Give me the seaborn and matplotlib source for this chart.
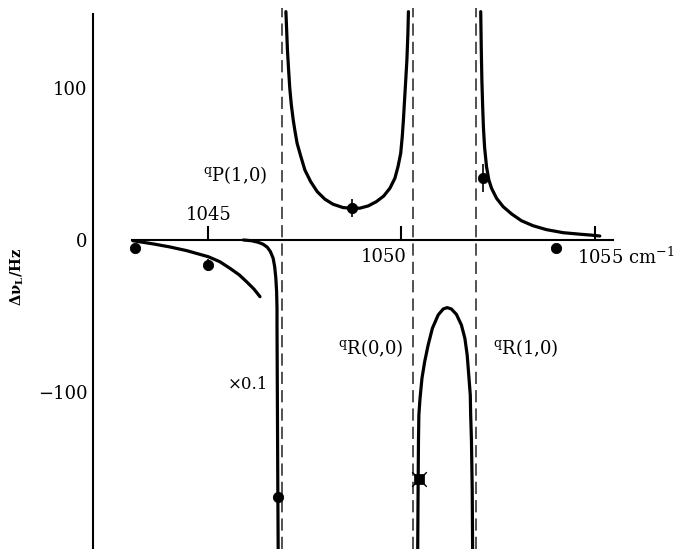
import matplotlib
matplotlib.use("Agg")
import matplotlib.pyplot as plt
import seaborn as sns

# ---- data ----
# curve left of qP(1,0) (unscaled)
c1_x = [1043.05, 1043.58, 1044.01, 1044.44, 1045.00, 1045.30, 1045.56, 1045.80, 1045.99, 1046.18, 1046.34]
c1_y = [-0.5, -2.6, -4.6, -7.0, -11.0, -14.3, -18.6, -22.9, -27.4, -32.2, -37.3]
# curve left of qP(1,0) (x0.1)
c2_x = [1045.91, 1046.12, 1046.29, 1046.42, 1046.53, 1046.61, 1046.68, 1046.72,
        1046.75, 1046.77, 1046.78, 1046.78, 1046.80, 1046.81]
c2_y = [0.0, -0.5, -1.5, -2.8, -4.8, -7.7, -12.0, -17.6,
        -25.2, -34.0, -44.9, -55.9, -157.9, -203.3]
# U-shaped curve between qP(1,0) and qR(0,0)
c3_x = [1047.01, 1047.03, 1047.05, 1047.08, 1047.11, 1047.15, 1047.20, 1047.24,
        1047.30, 1047.39, 1047.50, 1047.65, 1047.82, 1048.02, 1048.23, 1048.49,
        1048.71, 1048.92, 1049.14, 1049.35, 1049.54, 1049.70, 1049.83, 1049.91,
        1049.98, 1050.02, 1050.05, 1050.08, 1050.11, 1050.14, 1050.165, 1050.18]
c3_y = [150.2, 138.0, 125.0, 112.0, 100.0, 89.0, 78.9, 72.4,
        63.6, 55.5, 46.1, 38.4, 31.8, 26.8, 23.5, 21.3,
        20.9, 20.9, 22.4, 25.2, 28.9, 34.0, 40.6, 48.2,
        57.0, 68.0, 78.9, 92.1, 105.0, 118.4, 134.9, 150.2]
# curve right of qR(1,0)
c4_x = [1052.05, 1052.065, 1052.08, 1052.10, 1052.12, 1052.15, 1052.20, 1052.26,
        1052.33, 1052.46, 1052.63, 1052.85, 1053.10, 1053.40, 1053.75, 1054.18,
        1054.61, 1054.90, 1055.13]
c4_y = [150.2, 125.0, 105.0, 88.0, 74.0, 61.0, 48.2, 39.5,
        34.0, 27.4, 21.9, 17.1, 12.7, 9.4, 6.8, 4.8,
        3.8, 3.2, 2.6]
# inverted U between qR(0,0) and qR(1,0)
c5_x = [1050.42, 1050.43, 1050.44, 1050.45, 1050.48, 1050.53, 1050.60, 1050.69,
        1050.80, 1050.95, 1051.08, 1051.18, 1051.29, 1051.42, 1051.55, 1051.64,
        1051.70, 1051.74, 1051.78, 1051.79, 1051.81, 1051.83, 1051.84]
c5_y = [-203.3, -164.5, -131.6, -115.1, -104.2, -91.0, -80.1, -69.1,
        -58.1, -49.3, -45.4, -44.5, -45.4, -48.9, -55.9, -64.7,
        -75.7, -88.8, -102.0, -115.1, -131.6, -164.5, -203.3]

# measured points
pt_x = [1043.10, 1045.00, 1046.81, 1048.71, 1052.10, 1054.01]
pt_y = [-5.1, -16.5, -169.0, 20.9, 40.7, -5.5]
pt_err = [0.0, 4.0, 8.0, 6.0, 9.0, 0.0]
sq_x = [1050.45]
sq_y = [-157.3]

# resonance positions
lines_x = [1046.90, 1050.30, 1051.94]
line_labels = ["$^{\\mathrm{q}}$P(1,0)", "$^{\\mathrm{q}}$R(0,0)", "$^{\\mathrm{q}}$R(1,0)"]
line_label_x = [1044.86, 1048.35, 1052.36]
line_label_y = [42.8, -71.0, -71.0]

xtick_vals = [1045, 1050, 1055]
xtick_labels = ["1045", "1050", "1055 cm$^{-1}$"]
ytick_vals = [-100, 0, 100]

# ---- styling ----
sns.set_theme(style="white")
plt.rcParams["font.family"] = ["DejaVu Serif"]
plt.rcParams["mathtext.fontset"] = "dejavuserif"
plt.rcParams["text.color"] = "black"
plt.rcParams["axes.labelcolor"] = "black"
plt.rcParams["xtick.color"] = "black"
plt.rcParams["ytick.color"] = "black"

fig = plt.figure(figsize=(6.74, 5.49), dpi=100)
ax = fig.add_axes([93 / 674, 0.0, 581 / 674, 541 / 549])
ax.set_xlim(1042.02, 1057.05)
ax.set_ylim(-203.3, 152.6)

for lx in lines_x:
    ax.axvline(lx, color="#222222", lw=1.1, ls=(0, (8, 4)), zorder=1)

for cx, cy in [(c1_x, c1_y), (c2_x, c2_y), (c3_x, c3_y), (c4_x, c4_y), (c5_x, c5_y)]:
    sns.lineplot(x=cx, y=cy, sort=False, estimator=None, color="black",
                 lw=2.3, ax=ax, zorder=3)

ax.errorbar(pt_x, pt_y, yerr=pt_err, fmt="none", ecolor="black", elinewidth=1.2, zorder=4)
sns.scatterplot(x=pt_x, y=pt_y, color="black", s=55, edgecolor="black", ax=ax, zorder=5)
sns.scatterplot(x=sq_x, y=sq_y, color="black", marker="s", s=45, edgecolor="black", ax=ax, zorder=5)
sns.scatterplot(x=sq_x, y=sq_y, color="black", marker="x", s=110, linewidth=1.0, ax=ax, zorder=6)

# spines
for s in ["top", "right"]:
    ax.spines[s].set_visible(False)
ax.spines["bottom"].set_position(("data", 0))
ax.spines["bottom"].set_bounds(1043.02, 1055.47)
ax.spines["left"].set_bounds(-203.3, 148.7)
for s in ["bottom", "left"]:
    ax.spines[s].set_color("black")
    ax.spines[s].set_linewidth(1.5)

ax.set_xticks(xtick_vals)
ax.set_xticklabels([])
ax.set_yticks(ytick_vals)
ax.tick_params(axis="both", direction="in", length=10, width=1.5, color="black")
ax.tick_params(axis="y", labelsize=13, pad=4, labelcolor="black")
ax.tick_params(axis="x", bottom=True)

fs = 13
ax.text(xtick_vals[0], 16.4, xtick_labels[0], ha="center", va="center", fontsize=fs)
ax.text(1050.14, -11.2, xtick_labels[1], ha="right", va="center", fontsize=fs)
ax.text(1054.55, -11.2, xtick_labels[2], ha="left", va="center", fontsize=fs)

for tx, ty, tl in zip(line_label_x, line_label_y, line_labels):
    ax.text(tx, ty, tl, ha="left", va="center", fontsize=fs)
ax.text(1045.51, -95.4, "×0.1", ha="left", va="center", fontsize=12)

ax.set_ylabel("Δν$_{\\mathbf{L}}$/Hz", fontsize=10.5, fontweight="bold")
ax.yaxis.set_label_coords(-0.115, 0.503)

fig.savefig("out.png", dpi=100)
